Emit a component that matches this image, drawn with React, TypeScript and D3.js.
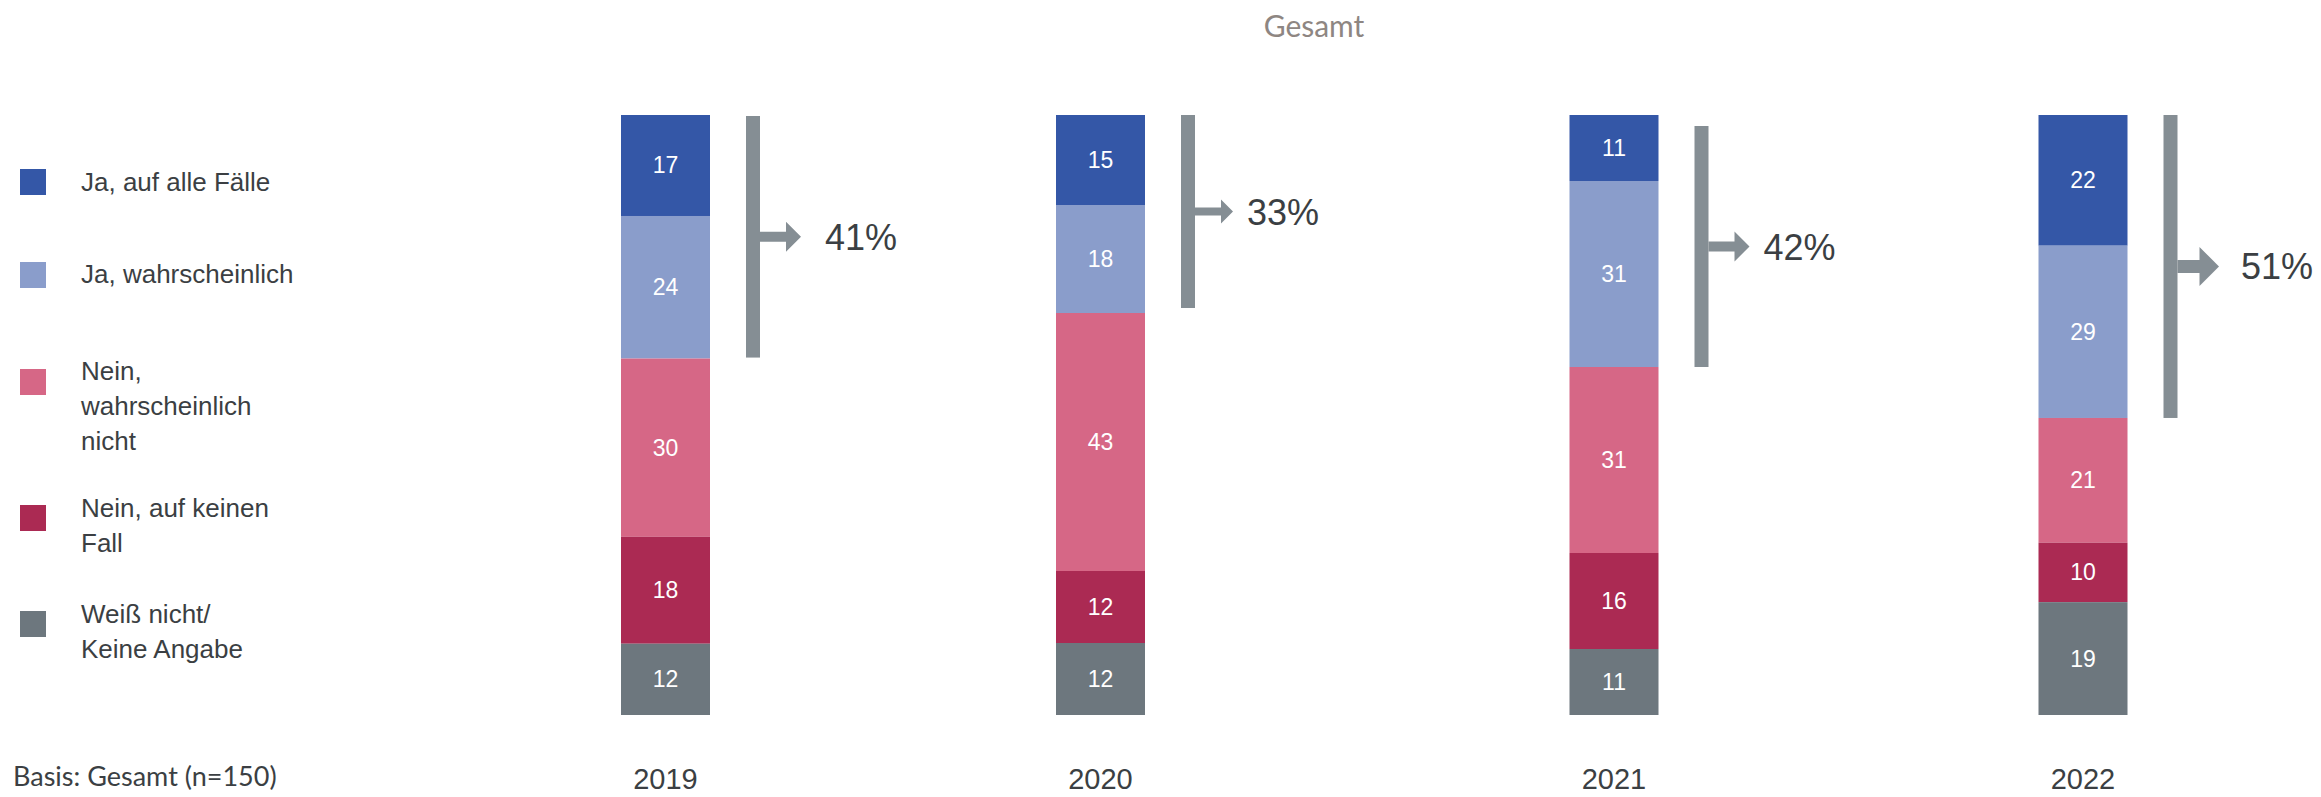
import React from "react";
import * as d3 from "d3";

// ---------- data ----------
const years = ["2019", "2020", "2021", "2022"];
const categories = [
  "Ja, auf alle Fälle",
  "Ja, wahrscheinlich",
  "Nein, wahrscheinlich nicht",
  "Nein, auf keinen Fall",
  "Weiß nicht/ Keine Angabe",
];
const jaAlleFaelle = [17, 15, 11, 22];
const jaWahrscheinlich = [24, 18, 31, 29];
const neinWahrscheinlichNicht = [30, 43, 31, 21];
const neinAufKeinenFall = [18, 12, 16, 10];
const weissNicht = [12, 12, 11, 19];
const topTwoLabels = ["41%", "33%", "42%", "51%"];

const legendLines = [
  ["Ja, auf alle Fälle"],
  ["Ja, wahrscheinlich"],
  ["Nein,", "wahrscheinlich", "nicht"],
  ["Nein, auf keinen", "Fall"],
  ["Weiß nicht/", "Keine Angabe"],
];
const title = "Gesamt";
const basis = "Basis: Gesamt (n=150)";

// ---------- styles / layout ----------
const colors = ["#3457A7", "#8A9DCB", "#D66786", "#AB2A53", "#6D777E"];
const bracketColor = "#858E94";
const textDark = "#3B3F43";
const W = 2321;
const H = 797;
const barTop = 115;
const barBottom = 715;
const barWidth = 89;
const barCenters = [665.5, 1100.5, 1614, 2083];
const arrowScale = [1, 0.8, 1, 1.3];
const bracketTopInset = [1, 0, 11, 0];
const bracketBottomInset = [1, 5, 0, 0];
const labelGap = [24, 14, 14, 22];
const legendSquareTop = [169, 262, 369, 505, 611];
const legendBaseline = [191, 283, 380, 517, 623];
const legendLineHeight = 35;

const ARIAL = "'Liberation Sans', Arial, sans-serif";
const LATO = "Lato, 'Open Sans', sans-serif";

export default function App() {
  const rows = years.map((y, i) => ({
    year: y,
    [categories[0]]: jaAlleFaelle[i],
    [categories[1]]: jaWahrscheinlich[i],
    [categories[2]]: neinWahrscheinlichNicht[i],
    [categories[3]]: neinAufKeinenFall[i],
    [categories[4]]: weissNicht[i],
  }));

  const stack = d3
    .stack<any>()
    .keys(categories)
    .offset(d3.stackOffsetExpand);
  const series = stack(rows);

  const x = d3.scaleOrdinal<string, number>().domain(years).range(barCenters);
  const y = d3.scaleLinear().domain([0, 1]).range([barTop, barBottom]);
  const color = d3.scaleOrdinal<string, string>().domain(categories).range(colors);

  return (
    <svg
      width={W}
      height={H}
      style={{ position: "absolute", left: 0, top: 0, display: "block", background: "#fff" }}
    >
      {/* title */}
      <text x={1314} y={37} textAnchor="middle" fontFamily={LATO} fontSize={30} fill="#8E8682">
        {title}
      </text>

      {/* bars */}
      {series.map((s) => (
        <g key={s.key}>
          {s.map((d, i) => {
            const y0 = y(d[0]);
            const y1 = y(d[1]);
            const cx = x(years[i]);
            const v = (d.data as any)[s.key];
            return (
              <g key={years[i]}>
                <rect x={cx - barWidth / 2} y={y0} width={barWidth} height={y1 - y0} fill={color(s.key)} />
                <text
                  x={cx}
                  y={(y0 + y1) / 2 + 8}
                  textAnchor="middle"
                  fontFamily={ARIAL}
                  fontSize={23}
                  fill="#fff"
                >
                  {v}
                </text>
              </g>
            );
          })}
        </g>
      ))}

      {/* brackets with arrows */}
      {years.map((yr, i) => {
        const top = series[0][i][0];
        const bottom = series[1][i][1];
        const bx = x(yr) + barWidth / 2 + 36;
        const bw = 14;
        const yTop = y(top) + bracketTopInset[i];
        const yBot = y(bottom) - bracketBottomInset[i];
        const cy = (yTop + yBot) / 2;
        const s = arrowScale[i];
        const shaftH = 10 * s;
        const headH = 30 * s;
        const headL = 15 * s;
        const shaftL = i === 3 ? 22 : 26;
        const sx = bx + bw;
        const hx = sx + shaftL;
        const tip = hx + headL;
        const path = d3.path();
        path.moveTo(sx, cy - shaftH / 2);
        path.lineTo(hx, cy - shaftH / 2);
        path.lineTo(hx, cy - headH / 2);
        path.lineTo(tip, cy);
        path.lineTo(hx, cy + headH / 2);
        path.lineTo(hx, cy + shaftH / 2);
        path.lineTo(sx, cy + shaftH / 2);
        path.closePath();
        return (
          <g key={yr}>
            <rect x={bx} y={yTop} width={bw} height={yBot - yTop} fill={bracketColor} />
            <path d={path.toString()} fill={bracketColor} />
            <text x={tip + labelGap[i]} y={cy + 13} fontFamily={ARIAL} fontSize={36} fill={textDark}>
              {topTwoLabels[i]}
            </text>
          </g>
        );
      })}

      {/* year labels */}
      {years.map((yr) => (
        <text
          key={yr}
          x={x(yr)}
          y={789}
          textAnchor="middle"
          fontFamily={ARIAL}
          fontSize={29}
          fill={textDark}
        >
          {yr}
        </text>
      ))}

      {/* legend */}
      {categories.map((c, i) => (
        <g key={c}>
          <rect x={20} y={legendSquareTop[i]} width={26} height={26} fill={color(c)} />
          <text fontFamily={ARIAL} fontSize={26} fill={textDark}>
            {legendLines[i].map((ln, j) => (
              <tspan key={j} x={81} y={legendBaseline[i] + j * legendLineHeight}>
                {ln}
              </tspan>
            ))}
          </text>
        </g>
      ))}

      {/* basis */}
      <text x={13} y={786} fontFamily={LATO} fontSize={27} fill={textDark}>
        {basis}
      </text>
    </svg>
  );
}
